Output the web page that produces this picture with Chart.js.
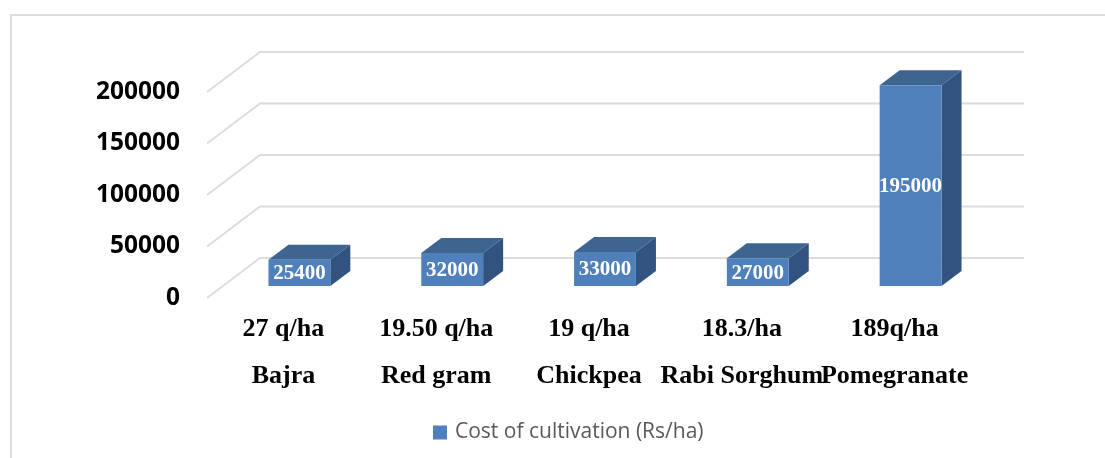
<!DOCTYPE html>
<html>
<head>
<meta charset="utf-8">
<script src="https://cdn.jsdelivr.net/npm/chart.js@4"></script>
<style>
  html, body { margin: 0; padding: 0; background: #fff; overflow: hidden; }
  #wrap { position: relative; width: 1105px; height: 458px; overflow: hidden; }
  #frame { position: absolute; left: 10px; top: 14px; width: 1200px; height: 600px; border: 2px solid #dedede; box-sizing: border-box; }
  canvas { position: absolute; left: 0; top: 0; }
</style>
</head>
<body>
<div id="wrap">
  <div id="frame"></div>
  <canvas id="costChart" width="1105" height="458"></canvas>
</div>
<script>
// data
const crops = ["Bajra", "Red gram", "Chickpea", "Rabi Sorghum", "Pomegranate"];
const yields = ["27 q/ha", "19.50 q/ha", "19 q/ha", "18.3/ha", "189q/ha"];
const costValues = [25400, 32000, 33000, 27000, 195000];
const yTicks = [0, 50000, 100000, 150000, 200000];
const seriesName = "Cost of cultivation (Rs/ha)";

// fake 3D look
const wallDepth = { x: 53, y: -40 };
const barShift = { x: 16, y: -12 };
const barDepth = { x: 20, y: -15 };
const legendShift = 84;

const frontColor = "#4f80bc";
const topColor = "#3e6590";
const sideColor = "#325380";
const gridColor = "#dcdcdc";

function poly(ctx, pts, color) {
  ctx.beginPath();
  ctx.moveTo(pts[0][0], pts[0][1]);
  pts.slice(1).forEach(p => ctx.lineTo(p[0], p[1]));
  ctx.closePath();
  ctx.fillStyle = color;
  ctx.fill();
}

const wallPlugin = {
  id: "wall",
  beforeDatasetsDraw(chart) {
    const { ctx, chartArea: a, scales } = chart;
    ctx.save();
    ctx.strokeStyle = gridColor;
    ctx.lineWidth = 1.8;
    yTicks.forEach(v => {
      const y = scales.y.getPixelForValue(v);
      ctx.beginPath();
      ctx.moveTo(a.left, y);
      ctx.lineTo(a.left + wallDepth.x, y + wallDepth.y);
      ctx.lineTo(a.right + wallDepth.x, y + wallDepth.y);
      ctx.stroke();
    });
    ctx.restore();
  }
};

const bar3dPlugin = {
  id: "bar3d",
  beforeDatasetDraw(chart, args) {
    const { ctx } = chart;
    ctx.save();
    ctx.translate(barShift.x, barShift.y);
    args.meta.data.forEach(bar => {
      const l = bar.x - bar.width / 2, r = bar.x + bar.width / 2;
      const t = bar.y, b = bar.base;
      const dx = barDepth.x, dy = barDepth.y;
      poly(ctx, [[l, t], [r, t], [r + dx, t + dy], [l + dx, t + dy]], topColor);
      poly(ctx, [[r, t], [r + dx, t + dy], [r + dx, b + dy], [r, b]], sideColor);
    });
  },
  afterDatasetDraw(chart, args) {
    const { ctx } = chart;
    ctx.font = "bold 21px 'Liberation Serif'";
    ctx.fillStyle = "#ffffff";
    ctx.textAlign = "center";
    ctx.textBaseline = "middle";
    args.meta.data.forEach((bar, i) => {
      ctx.fillText(String(costValues[i]), bar.x, (bar.y + bar.base) / 2 + 1);
    });
    ctx.restore();
  }
};

const legendPlugin = {
  id: "legendMove",
  afterLayout(chart) {
    chart.legend.left += legendShift;
    chart.legend.right += legendShift;
  }
};

new Chart(document.getElementById("costChart"), {
  type: "bar",
  data: {
    labels: crops.map((c, i) => [yields[i], c]),
    datasets: [{
      label: seriesName,
      data: costValues,
      backgroundColor: frontColor,
      borderWidth: 0,
      barPercentage: 0.405,
      categoryPercentage: 1
    }]
  },
  options: {
    responsive: false,
    animation: false,
    layout: { padding: { left: 0, right: 134, top: 92, bottom: 5 } },
    plugins: {
      tooltip: { enabled: false },
      legend: {
        position: "bottom",
        labels: {
          boxWidth: 9,
          boxHeight: 9,
          padding: 8,
          color: "#595959",
          font: { family: "'Open Sans'", size: 21 },
          // thick stroke widens the box without widening the gap to the text
          generateLabels(chart) {
            return Chart.defaults.plugins.legend.labels.generateLabels(chart).map(item => {
              item.lineWidth = 5;
              item.strokeStyle = frontColor;
              return item;
            });
          }
        }
      }
    },
    scales: {
      x: {
        grid: { display: false },
        border: { display: false },
        afterFit(scale) { scale.height = 116; },
        ticks: {
          autoSkip: false,
          maxRotation: 0,
          minRotation: 0,
          padding: 0,
          color: "#000000",
          font: { family: "'Liberation Serif'", size: 26, weight: "bold", lineHeight: 1.81 }
        }
      },
      y: {
        min: 0,
        max: 200000,
        grid: { display: false },
        border: { display: false },
        afterFit(scale) { scale.width = 207; },
        afterBuildTicks(scale) { scale.ticks = yTicks.map(v => ({ value: v })); },
        ticks: {
          padding: 19,
          color: "#000000",
          callback: v => String(v),
          font: { family: "'Open Sans'", size: 24.5, weight: "bold" }
        }
      }
    }
  },
  plugins: [wallPlugin, bar3dPlugin, legendPlugin]
});
</script>
</body>
</html>
